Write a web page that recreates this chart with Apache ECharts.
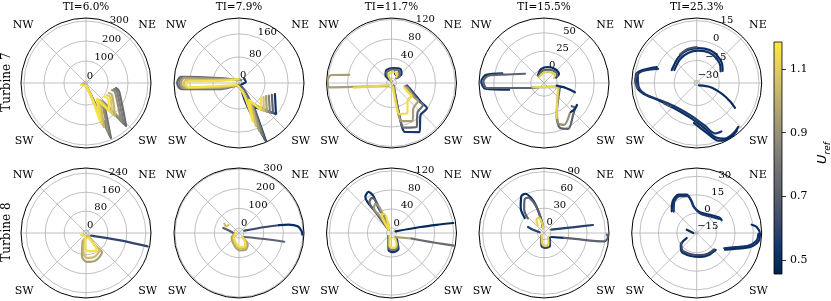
<!DOCTYPE html>
<html><head><meta charset="utf-8">
<script src="https://cdn.jsdelivr.net/npm/echarts@6/dist/echarts.min.js"></script>
<style>html,body{margin:0;padding:0;background:#fff}#c{width:831px;height:301px}</style>
</head><body><div id="c"></div>
<script>
// ---------------- data ----------------
const U_MIN = 0.456, U_MAX = 1.185;
const CBAR_TICKS = [0.5, 0.7, 0.9, 1.1];
const TITLES = ['TI=6.0%', 'TI=7.9%', 'TI=11.7%', 'TI=15.5%', 'TI=25.3%'];
const ROWS = ['Turbine 7', 'Turbine 8'];
const DIR_LABELS = {45: 'NE', 135: 'SW', 225: 'SW', 315: 'NW'};

// radial limits and tick values per panel
const t7_ti06_rlim = [-10, 315],  t7_ti06_ticks = [0, 100, 200, 300];
const t7_ti79_rlim = [-10, 215],  t7_ti79_ticks = [0, 80, 160];
const t7_ti117_rlim = [-10, 123], t7_ti117_ticks = [0, 40, 80, 120];
const t7_ti155_rlim = [-18, 70],  t7_ti155_ticks = [0, 25, 50];
const t7_ti253_rlim = [-32, 17],  t7_ti253_ticks = [-30, -15, 0, 15];
const t8_ti06_rlim = [-12, 262],  t8_ti06_ticks = [0, 80, 160, 240];
const t8_ti79_rlim = [-25, 305],  t8_ti79_ticks = [0, 100, 200, 300];
const t8_ti117_rlim = [-10.5, 126], t8_ti117_ticks = [0, 40, 80, 120];
const t8_ti155_rlim = [-10.7, 96], t8_ti155_ticks = [0, 30, 60, 90];
const t8_ti253_rlim = [-16, 36.7], t8_ti253_ticks = [-15, 0, 15, 30];

// curves: [U_ref, [[direction deg, radius], ...]]
const t7_ti06 = [
  [0.76, [[252,6],[166,11],[155.6,292],[138,125],[137,284],[103.7,160],[99.5,142]]],
  [0.82, [[252,6],[166,11],[155.7,275],[138.2,118],[137.2,266],[105.5,151],[102.3,133]]],
  [0.88, [[252,6],[166,11],[155.8,258],[138.4,110],[137.4,248],[107.2,142],[105.1,125]]],
  [1.02, [[250,10],[170,8],[157.8,228],[140.5,100],[138.7,210],[114.7,133],[113.5,115]]],
  [1.09, [[249,13],[175,6],[158.8,210],[143,93],[139.6,190],[120,130],[120,112]]],
  [1.16, [[248,17],[180,5],[159.8,192],[145.5,87],[140.6,171],[126,126],[126.4,108]]]
];
const t7_ti79 = [
  [0.52, [[45,14],[82,14],[135,0],[155,210],[148,88],[130,157],[107,120]]],
  [0.72, [[34,2.5],[284,61],[276,192],[270,204],[264,192],[253,62],[233,7],[180,-3],[155.5,207],[147.5,80],[131.4,147],[110,111]]],
  [0.84, [[25,2.5],[282.5,61],[275.5,186],[269.7,197],[264.5,186],[254.5,61],[231,5],[156,188],[147.7,74],[133.7,138],[113,102]]],
  [0.95, [[16,2.5],[281,61],[275,181],[269.5,191],[265,181],[256,61],[230,3.5],[157,170],[148,68],[136,129],[116,94]]],
  [1.06, [[0,3],[278,60],[273.5,172],[269.2,182],[265,172],[258.7,60],[233,3],[158.5,150],[148.7,63],[138.5,120],[120,88]]],
  [1.16, [[346,4],[276,60],[272,163],[269,173],[265,164],[261.5,60],[236,2.5],[160,130],[149.5,58],[141,110],[124,82]]]
];
const t7_ti117 = [
  [0.95, [[225,-1],[263,52],[266,117],[272,121],[277.6,114],[281,78]]],
  [1.12, [[225,-4],[263,68]]],
  [0.55, [[141,-3],[166.6,78.6],[164.6,94],[150.3,105.7],[137.8,78.6],[125.2,79],[123.5,66],[105.5,28],[99,22]]],
  [0.75, [[141,-3],[166.7,70],[165,84.5],[150.4,93.7],[138,70],[125,68.7],[123.7,56.5],[106.4,26],[101.7,20]]],
  [0.95, [[150,-2],[167.7,57],[165.3,70.6],[151,79],[138.7,58],[124,55.6],[123,46],[109,24.7],[105,17.6]]],
  [1.15, [[160,-2],[168,40],[165.5,55.6],[152,59.7],[136.7,37.8],[123,39],[120.5,30.4],[111,18.5]]],
  [0.52, [[0,-6],[323,10.5],[339,18.5],[7.6,21],[32.7,24],[48,17.6],[45,4.5]]],
  [0.75, [[0,-6],[333,13],[4,17.7],[32.6,20.4],[49,11.8],[45,4]]],
  [1.12, [[0,-6],[339,7.5],[5,12.6],[31,14],[40,6]]]
];
const t7_ti155 = [
  [0.52, [[283,40],[278,61],[271.5,67],[264.5,62],[259,30]]],
  [0.72, [[296,10.6],[282,37],[277.5,57.8],[271.6,64],[265,59.6],[260.5,23],[248,0],[225,-10.3],[128.7,-9.4],[104,4.3],[159,29.8],[160.4,46.5],[152.2,52.2],[137.3,40.3],[129,35.7],[130,30.9]]],
  [0.9, [[249.4,-0.7],[105,3],[152.5,20],[160.7,39],[154.5,44.8],[139,35.6]]],
  [1.12, [[249.5,-2.6],[105.6,2],[147,14.3],[160,32.2]]],
  [0.5, [[102,-0.5],[102.8,12.5],[106.7,25.7]]],
  [0.5, [[123.7,35.6],[130,36.6],[137,35.5]]],
  [0.5, [[323,-4.5],[348,1.3],[14,4.3],[38,6],[59,5.6],[65.4,-0.2]]],
  [0.72, [[322,-6],[350.5,-1.5],[18.4,1.2],[47.5,4],[61.7,2]]],
  [1.1, [[320,-7.5],[354,-4.5],[24,-1.7],[54,0.4],[63.4,-3]]]
];
const t7_ti253 = [
  [0.5, [[297.5,-10.8],[325,-8.2],[344.7,-6.3],[3.3,-5.6],[21.5,-5.3],[38,-6.3],[53.3,-8.1],[65,-10.5]]],
  [0.52, [[300,-12.5],[326,-10],[345,-8.3],[3,-7.6],[22,-7.2],[39,-8.3],[54,-10],[64,-12]]],
  [0.65, [[330,-7],[345,-5.5],[0,-5]]],
  [0.5, [[291.8,0.4],[283,10.4],[277.2,14.2],[266,13.2],[258.6,8.9],[245.7,-0.4],[220,-6.7],[188,-4.9],[169.7,2.9],[161.3,10.9],[153,15],[144,15],[136.5,13.6]]],
  [0.55, [[290,-1],[283,9],[277.5,12.8],[266,11.8],[257.5,7.5],[244,-2],[219,-8.3],[187,-6.5],[169,1],[160,8.5],[153,9]]],
  [0.64, [[279,13.5],[272,14.5],[265,12.5]]],
  [0.64, [[238,-3],[228,-5.5]]],
  [0.5, [[135,-29.5],[106.7,-21.5],[113.2,-11.5],[118.8,-3.4],[123,2.4]]],
  [0.5, [[184,-1.8],[168.7,6.4],[159,14.6],[150,16.5],[140,15]]]
];
const t8_ti06 = [
  [0.6, [[118.4,12],[102.6,117],[102,181.6],[102.2,254]]],
  [0.95, [[129,6],[201.7,25.5],[189.7,87.5],[178.6,110],[160,110.5],[140.3,93.6],[143,58],[141.3,15]]],
  [1.05, [[135,5],[194,22.5],[187,73],[177.7,93],[159,94],[141.5,79],[144.7,50],[142,12]]],
  [1.16, [[251,10.3],[190,5],[182.5,55.4],[169.8,66.3],[147.4,71.4],[144.6,48],[151.6,12]]]
];
const t8_ti79 = [
  [0.62, [[66.5,4.5],[77,110.6],[79,182]]],
  [0.5, [[79,182],[80.4,229],[83.5,275],[88.4,293.5],[91.5,296.6]]],
  [0.72, [[127,8.5],[103,110.6],[100.9,209]]],
  [0.7, [[287.7,58.8],[284,27.3],[270,4]]],
  [1.05, [[302.3,63.4],[296.6,48.7],[307.3,42]]],
  [0.95, [[270,-4.7],[235.6,19.7],[196.7,45.6],[176.7,63],[158,66.4],[143.4,49],[139.3,8.5]]],
  [1.05, [[270,-7],[233,13],[195,39],[175.5,55],[157,57],[145,40],[141,5]]],
  [1.15, [[270,-9.8],[231.3,7.5],[192.8,32.4],[174,46.6],[155,47.6],[146.3,30],[143,0.4]]]
];
const t8_ti117 = [
  [0.5, [[320.7,-1.5],[323,42],[324,83],[330.7,88.4],[334,76],[332.5,49],[338,23.6],[337,5.5]]],
  [0.72, [[320,-1.5],[323,36],[324.6,69.5],[331,74],[334,64.4],[333.4,41.3],[338,20],[337,4]]],
  [0.92, [[320,-1.5],[326,27.4],[325,53.7],[331,59.2],[335,49.7],[334.7,33.7],[336,10.2]]],
  [1.15, [[320,-1.5],[327.5,17],[331,33],[340,32],[341.6,16],[338,1]]],
  [0.52, [[225,-1.6],[190,26],[174,29.7],[156.4,26.3],[135,4.4]]],
  [0.8, [[220,-2],[189,22],[173,25.5],[157,22],[140,2]]],
  [1.15, [[213.7,-3],[188.7,17.3],[172.4,21.3],[157.4,17],[143,0]]],
  [0.48, [[67,-1.4],[78.3,51.8],[79.7,85.7],[80.8,121]]],
  [0.95, [[135,1.5],[105.4,33]]],
  [0.75, [[105.4,33],[104,52.4],[102.5,86.5],[101.5,123.4]]]
];
const t8_ti155 = [
  [0.5, [[308,29.3],[317,45.4],[328.3,60.1],[334.6,60.6],[340,50.3],[344,34.9],[348.5,11.6],[348.7,-2.3]]],
  [0.72, [[312,25],[320,40],[330,53],[336,53],[341,43],[345,29],[349,9],[350,-3]]],
  [1.12, [[320,5],[330,14],[340,16],[348,8],[352,-4]]],
  [0.58, [[290.6,17.3],[286.7,8.2],[279,-3.5]]],
  [0.6, [[225,-4],[191,11],[172.4,14],[155,12.8],[130,2]]],
  [1.12, [[231,-5.5],[191,6],[175.6,10.6],[157.8,8.8],[135,-1.4]]],
  [0.58, [[65.7,2.4],[79,40.6],[80.7,70.7]]],
  [0.5, [[118.7,2.9],[104,23]]],
  [0.72, [[104,23],[101,40.6],[97.8,89.8],[93.6,94.4],[91.4,92.6]]]
];
const t8_ti253 = [
  [0.5, [[311,10.8],[323,16.3],[334.5,18.4],[345.4,16.1],[349.8,11.4],[353,5.8],[9,1],[36,2.3],[57,6.5],[63,6.7]]],
  [0.55, [[313,9.5],[324,15],[335,17],[346,14.8],[351,10],[355,4.5],[12,0],[38,1.2],[58,5.5]]],
  [0.5, [[120.5,10.7],[111.4,18.9],[104.7,28.7],[97.7,34.5],[90.6,35.3],[84.3,32.9],[81.4,29.1]]],
  [0.53, [[119,9.5],[110,17.5],[104,27],[97,33],[91,34]]],
  [0.5, [[288.3,-7.5],[270,-13.3]]],
  [0.5, [[243.4,-6.9],[233,0.2],[218.3,3.6],[194.6,3.3],[170.5,3.7],[151.4,4.4],[131.8,4.7]]],
  [0.62, [[236,-1],[219,2.3],[195,1.8],[171,2.2],[152,3],[133,3.5]]]
];

// ---------------- layout & style ----------------
const CX = [86, 239, 391.5, 544, 696.7];
const CY = [83, 233];
const R = 65;
const SERIF = 'DejaVu Serif';
const CIVIDIS = ['#00224e','#123570','#3b496c','#575d6d','#707173','#8a8779','#a69d75','#c4b56c','#e4cf5b','#fee838'];

function hexToRgb(h){return [parseInt(h.slice(1,3),16),parseInt(h.slice(3,5),16),parseInt(h.slice(5,7),16)];}
function cividis(u){
  let t = (u - U_MIN) / (U_MAX - U_MIN);
  t = Math.max(0, Math.min(1, t));
  const x = t * (CIVIDIS.length - 1);
  const i = Math.min(Math.floor(x), CIVIDIS.length - 2);
  const f = x - i;
  const a = hexToRgb(CIVIDIS[i]), b = hexToRgb(CIVIDIS[i+1]);
  const c = a.map((v,k)=>Math.round(v + (b[k]-v)*f));
  return 'rgb(' + c.join(',') + ')';
}
const minus = v => String(v).replace('-', '\u2212');

const panels = [
  {curves: t7_ti06, rlim: t7_ti06_rlim, ticks: t7_ti06_ticks},
  {curves: t7_ti79, rlim: t7_ti79_rlim, ticks: t7_ti79_ticks},
  {curves: t7_ti117, rlim: t7_ti117_rlim, ticks: t7_ti117_ticks},
  {curves: t7_ti155, rlim: t7_ti155_rlim, ticks: t7_ti155_ticks},
  {curves: t7_ti253, rlim: t7_ti253_rlim, ticks: t7_ti253_ticks},
  {curves: t8_ti06, rlim: t8_ti06_rlim, ticks: t8_ti06_ticks},
  {curves: t8_ti79, rlim: t8_ti79_rlim, ticks: t8_ti79_ticks},
  {curves: t8_ti117, rlim: t8_ti117_rlim, ticks: t8_ti117_ticks},
  {curves: t8_ti155, rlim: t8_ti155_rlim, ticks: t8_ti155_ticks},
  {curves: t8_ti253, rlim: t8_ti253_rlim, ticks: t8_ti253_ticks}
];

const polar = [], angleAxis = [], radiusAxis = [], series = [], graphic = [];
panels.forEach((p, i) => {
  const row = Math.floor(i / 5), col = i % 5;
  const center = [CX[col], CY[row]];
  polar.push({center, radius: R});
  angleAxis.push({
    polarIndex: 2*i, type: 'value', min: 0, max: 360, interval: 45, startAngle: 90, clockwise: true,
    axisLine: {lineStyle: {color: '#000', width: 1}}, axisTick: {show: false},
    axisLabel: {margin: 9, formatter: v => DIR_LABELS[v] || '', fontFamily: SERIF, fontSize: 11, color: '#000'},
    splitLine: {show: true, lineStyle: {color: '#b0b0b0', width: 0.8}}
  });
  radiusAxis.push({
    polarIndex: 2*i, type: 'value', min: p.rlim[0], max: p.rlim[1],
    axisLine: {show: false}, axisTick: {show: false, customValues: p.ticks},
    axisLabel: {show: false, customValues: p.ticks},
    splitLine: {show: true, lineStyle: {color: '#b0b0b0', width: 0.8}}
  });
  polar.push({center, radius: R});
  angleAxis.push({polarIndex: 2*i+1, type: 'value', min: 0, max: 360, startAngle: 67.5, show: false});
  radiusAxis.push({
    polarIndex: 2*i+1, type: 'value', min: p.rlim[0], max: p.rlim[1],
    axisLine: {show: false}, axisTick: {show: false}, splitLine: {show: false},
    axisLabel: {customValues: p.ticks, margin: 0, align: 'left', verticalAlign: 'bottom',
      formatter: minus, fontFamily: SERIF, fontSize: 10, color: '#000'}
  });
  p.curves.forEach(([u, pts]) => {
    series.push({
      type: 'line', coordinateSystem: 'polar', polarIndex: 2*i,
      data: pts.map(q => [q[1], q[0]]),
      showSymbol: false, smooth: 0.3, silent: true, animation: false,
      lineStyle: {color: cividis(u), width: 2.2, cap: 'round', join: 'round'}, z: 3
    });
  });
});

TITLES.forEach((t, c) => graphic.push({type: 'text', x: CX[c], y: 7,
  style: {text: t, fontFamily: SERIF, fontSize: 10.5, fill: '#000', align: 'center', verticalAlign: 'middle'}}));
ROWS.forEach((t, r) => graphic.push({type: 'text', x: 7, y: CY[r] - 1, rotation: Math.PI/2,
  style: {text: t, fontFamily: SERIF, fontSize: 12, fill: '#000', align: 'center', verticalAlign: 'middle'}}));
graphic.push({type: 'text', x: 821, y: 153, rotation: Math.PI/2,
  style: {text: '{u|U}{s|ref}', align: 'center', verticalAlign: 'middle', fill: '#000',
    rich: {u: {fontFamily: 'DejaVu Sans', fontStyle: 'italic', fontSize: 13, lineHeight: 16, verticalAlign: 'bottom'},
           s: {fontFamily: 'DejaVu Sans', fontStyle: 'italic', fontSize: 9, lineHeight: 16, verticalAlign: 'bottom', padding: [0,0,-3,0]}}}});

const cbStops = CIVIDIS.map((c, k) => ({offset: k / (CIVIDIS.length - 1), color: c}));
series.push({type: 'bar', xAxisIndex: 0, yAxisIndex: 0, stack: 'cb', data: [U_MIN], barWidth: '100%',
  itemStyle: {color: 'transparent'}, silent: true, animation: false});
series.push({type: 'bar', xAxisIndex: 0, yAxisIndex: 0, stack: 'cb', data: [U_MAX - U_MIN], barWidth: '100%',
  itemStyle: {color: new echarts.graphic.LinearGradient(0, 1, 0, 0, cbStops)}, silent: true, animation: false});

const option = {
  animation: false,
  backgroundColor: '#fff',
  polar, angleAxis, radiusAxis,
  grid: {left: 774, top: 42, width: 8, height: 232, show: true, borderColor: '#000', borderWidth: 0.8,
    backgroundColor: 'transparent', z: 5},
  xAxis: {type: 'category', data: ['cb'], show: false},
  yAxis: {type: 'value', position: 'right', min: U_MIN, max: U_MAX,
    axisLine: {show: false}, splitLine: {show: false},
    axisTick: {show: true, customValues: CBAR_TICKS, length: 4, lineStyle: {color: '#000', width: 0.8}},
    axisLabel: {customValues: CBAR_TICKS, margin: 8, formatter: v => v.toFixed(1), fontFamily: SERIF, fontSize: 11, color: '#000'}},
  series, graphic
};
const chart = echarts.init(document.getElementById('c'), null, {renderer: 'canvas'});
chart.setOption(option);
</script></body></html>
